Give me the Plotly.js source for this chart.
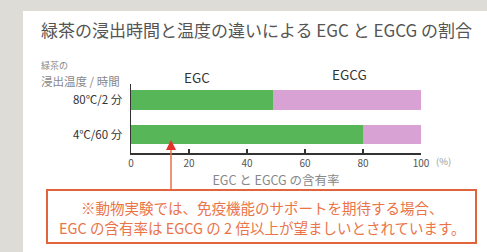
<!DOCTYPE html>
<html>
<head>
<meta charset="utf-8">
<script src="https://cdn.plot.ly/plotly-3.0.1.min.js"></script>
<style>html,body{margin:0;padding:0;background:#dddcd7;}#chart{width:487px;height:252px;}</style>
</head>
<body>
<div id="chart"></div>
<script>
const categories = ['80℃/2 分', '4℃/60 分'];
const egcValues = [49, 80];
const egcgValues = [51, 20];
const xTickValues = [0, 20, 40, 60, 80, 100];
const seriesNames = ['EGC', 'EGCG'];
const titleText = '緑茶の浸出時間と温度の違いによる EGC と EGCG の割合';
const yLabelLines = ['緑茶の', '浸出温度 / 時間'];
const xTitleText = 'EGC と EGCG の含有率';
const noteLines = ['※動物実験では、免疫機能のサポートを期待する場合、', 'EGC の含有率は EGCG の 2 倍以上が望ましいとされています。'];

const W = 487, H = 252;
const M = {l: 131, r: 66, t: 84, b: 99};
const PW = W - M.l - M.r, PH = H - M.t - M.b;
const px = x => (x - M.l) / PW;
const py = y => 1 - (y - M.t) / PH;
const FONT = '"Noto Sans CJK JP", "Noto Sans", sans-serif';

const traces = [
  {type: 'bar', orientation: 'h', name: seriesNames[0], y: categories, x: egcValues,
   marker: {color: '#57b657'}, width: 0.565, hoverinfo: 'skip'},
  {type: 'bar', orientation: 'h', name: seriesNames[1], y: categories, x: egcgValues,
   marker: {color: '#d8a2d4'}, width: 0.565, hoverinfo: 'skip'}
];

const shapes = [
  {type: 'rect', xref: 'paper', yref: 'paper', layer: 'below', x0: px(23), x1: px(487), y0: py(11), y1: py(252),
   fillcolor: '#ffffff', line: {width: 0}},
  {type: 'line', xref: 'paper', yref: 'paper', x0: px(171), x1: px(171), y0: py(149), y1: py(190),
   line: {color: '#e8704a', width: 1.5}},
  {type: 'path', xref: 'paper', yref: 'paper', fillcolor: '#e5312c', line: {width: 0},
   path: `M ${px(171)} ${py(140)} L ${px(166)} ${py(150)} L ${px(176)} ${py(150)} Z`},
  {type: 'rect', xref: 'paper', yref: 'paper', x0: px(47), x1: px(476), y0: py(190), y1: py(243),
   fillcolor: '#ffffff', line: {color: '#e0643c', width: 2}}
];

const ann = (text, x, y, size, color, xanchor) => ({
  text, xref: 'paper', yref: 'paper', x: px(x), y: py(y), xanchor: xanchor || 'center', yanchor: 'middle',
  showarrow: false, font: {family: FONT, size, color}
});

const annotations = [
  ann(titleText, 39, 29, 17, '#555555', 'left'),
  ann(yLabelLines[0], 39, 65, 9, '#888888', 'left'),
  ann(yLabelLines[1], 39, 81, 11.5, '#888888', 'left'),
  ann(seriesNames[0], 197, 77, 13.5, '#333333'),
  ann(seriesNames[1], 349, 74, 13.5, '#333333'),
  ann('(%)', 443, 161, 9.5, '#999999'),
  ann(noteLines[0], 262, 207, 14.5, '#ea7448'),
  ann(noteLines[1], 262, 227, 14.5, '#ea7448')
];

const layout = {
  width: W, height: H, margin: M,
  paper_bgcolor: '#dddcd7', plot_bgcolor: 'rgba(0,0,0,0)',
  barmode: 'stack', showlegend: false,
  font: {family: FONT},
  xaxis: {
    range: [0, 100], tickvals: xTickValues, ticktext: xTickValues.map(String),
    showgrid: false, zeroline: false, showline: true, linecolor: '#333333', linewidth: 1.5,
    ticks: 'inside', ticklen: 4, tickwidth: 1.5, tickcolor: '#333333',
    tickfont: {size: 10, color: '#555555', family: FONT},
    title: {text: xTitleText, font: {size: 12.5, color: '#888888', family: FONT}, standoff: 4},
    fixedrange: true
  },
  yaxis: {
    type: 'category', categoryorder: 'array', categoryarray: categories,
    range: [1.536, -0.464],
    showgrid: false, zeroline: false, showline: true, linecolor: '#333333', linewidth: 1.5,
    ticks: '', ticklabelstandoff: 5,
    tickfont: {size: 11.5, color: '#333333', family: FONT},
    fixedrange: true
  },
  shapes, annotations
};

Plotly.newPlot('chart', traces, layout, {displayModeBar: false, staticPlot: true});
</script>
</body>
</html>
